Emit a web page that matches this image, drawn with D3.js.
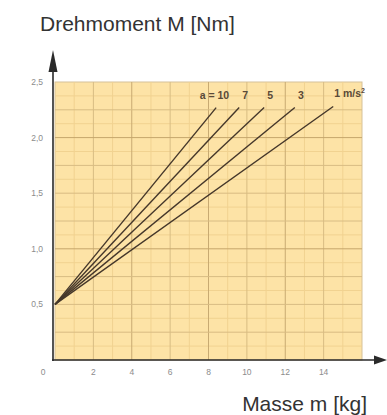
<!DOCTYPE html>
<html><head><meta charset="utf-8">
<script src="https://cdn.jsdelivr.net/npm/d3@7"></script>
<style>body{margin:0;background:#fff}svg{display:block}</style>
</head><body>
<script>
// ---- data ----
const accelLabels = ["a = 10", "7", "5", "3", "1 m/s²"];
const startMass = 0;          // kg
const startTorque = 0.5;      // Nm
const endMass = [8.4, 9.6, 10.9, 12.5, 14.5];     // kg
const endTorque = [2.27, 2.27, 2.27, 2.27, 2.28]; // Nm
const xTicks = [0, 2, 4, 6, 8, 10, 12, 14];
const yTicks = [0.5, 1.0, 1.5, 2.0, 2.5];
const xTitle = "Masse m [kg]";
const yTitle = "Drehmoment M [Nm]";

const W = 387, H = 415;
const svg = d3.select("body").append("svg").attr("width", W).attr("height", H);

const x = d3.scaleLinear().domain([0, 16]).range([55, 362]);
const y = d3.scaleLinear().domain([0, 2.5]).range([360, 82]);

// plot area
svg.append("rect").attr("x", x(0)).attr("y", y(2.5))
  .attr("width", x(16) - x(0)).attr("height", y(0) - y(2.5))
  .attr("fill", "#fde3a6").attr("stroke", "#d6c199").attr("stroke-width", 1);

const g = svg.append("g");
// faint grid
g.selectAll(".fv").data(d3.range(1, 16, 2)).join("line")
  .attr("x1", d => x(d)).attr("x2", d => x(d)).attr("y1", y(0)).attr("y2", y(2.5))
  .attr("stroke", "#f1d290").attr("stroke-width", 1);
g.selectAll(".fh").data(d3.range(0.125, 2.5, 0.25)).join("line")
  .attr("x1", x(0)).attr("x2", x(16)).attr("y1", d => y(d)).attr("y2", d => y(d))
  .attr("stroke", "#f1d290").attr("stroke-width", 1);
// medium grid
g.selectAll(".mv").data(d3.range(2, 16, 2)).join("line")
  .attr("x1", d => x(d)).attr("x2", d => x(d)).attr("y1", y(0)).attr("y2", y(2.5))
  .attr("stroke", d => d % 4 === 0 ? "#c8aa72" : "#d8bc83").attr("stroke-width", 1);
g.selectAll(".mh").data(d3.range(0.25, 2.5, 0.25)).join("line")
  .attr("x1", x(0)).attr("x2", x(16)).attr("y1", d => y(d)).attr("y2", d => y(d))
  .attr("stroke", d => Math.abs(d % 1) < 1e-9 || Math.abs(d - 2) < 1e-9 ? "#c5a66c" : "#d8bc83")
  .attr("stroke-width", 1);

// torque lines
const lines = svg.append("g");
endMass.forEach((m, i) => {
  lines.append("line")
    .attr("x1", x(startMass)).attr("y1", y(startTorque))
    .attr("x2", x(m)).attr("y2", y(endTorque[i]))
    .attr("stroke", "#45372a").attr("stroke-width", 1.4);
});

// curve labels
const lab = svg.append("g").attr("font-family", "Liberation Sans, Arial, sans-serif")
  .attr("font-size", 10.5).attr("font-weight", "bold").attr("fill", "#5a4a38");
accelLabels.forEach((t, i) => {
  const tx = x(endMass[i]) + 6;
  const ty = y(endTorque[i]) - 9;
  if (i === 0) {
    lab.append("text").attr("x", tx + 7).attr("y", ty).attr("text-anchor", "end").text(t);
  } else if (i === accelLabels.length - 1) {
    const te = lab.append("text").attr("x", tx - 5).attr("y", ty).attr("text-anchor", "start");
    te.text(t.replace("²", ""));
    te.append("tspan").attr("font-size", 7).attr("dy", -4).text("2");
  } else {
    lab.append("text").attr("x", tx).attr("y", ty).attr("text-anchor", "middle").text(t);
  }
});

// axes
const ax = svg.append("g").attr("stroke", "#2a2a2a").attr("fill", "#2a2a2a");
ax.append("line").attr("x1", 52).attr("x2", 374).attr("y1", y(0)).attr("y2", y(0)).attr("stroke-width", 1.6);
ax.append("path").attr("d", `M374,${y(0) - 4.5}L387,${y(0)}L374,${y(0) + 4.5}Z`).attr("stroke", "none");
ax.append("line").attr("x1", 53).attr("x2", 53).attr("y1", y(0) + 1).attr("y2", 70).attr("stroke-width", 1.6);
ax.append("path").attr("d", `M48.5,72L53,50L57.5,72Z`).attr("stroke", "none");

// tick labels
const tl = svg.append("g").attr("font-family", "Liberation Sans, Arial, sans-serif")
  .attr("font-size", 8.5).attr("fill", "#8c8c8c");
tl.selectAll(".xt").data(xTicks).join("text")
  .attr("x", d => d === 0 ? x(d) - 12 : x(d))
  .attr("y", y(0) + 15).attr("text-anchor", "middle")
  .text(d => d);
tl.selectAll(".yt").data(yTicks).join("text")
  .attr("x", 43).attr("y", d => y(d) + 3).attr("text-anchor", "end")
  .text(d => d.toFixed(1).replace(".", ","));

// titles
const tt = svg.append("g").attr("font-family", "Liberation Sans, Arial, sans-serif")
  .attr("font-size", 21).attr("fill", "#333");
tt.append("text").attr("x", 40).attr("y", 31).text(yTitle);
tt.append("text").attr("x", 367).attr("y", 411).attr("text-anchor", "end").text(xTitle);
</script>
</body></html>
